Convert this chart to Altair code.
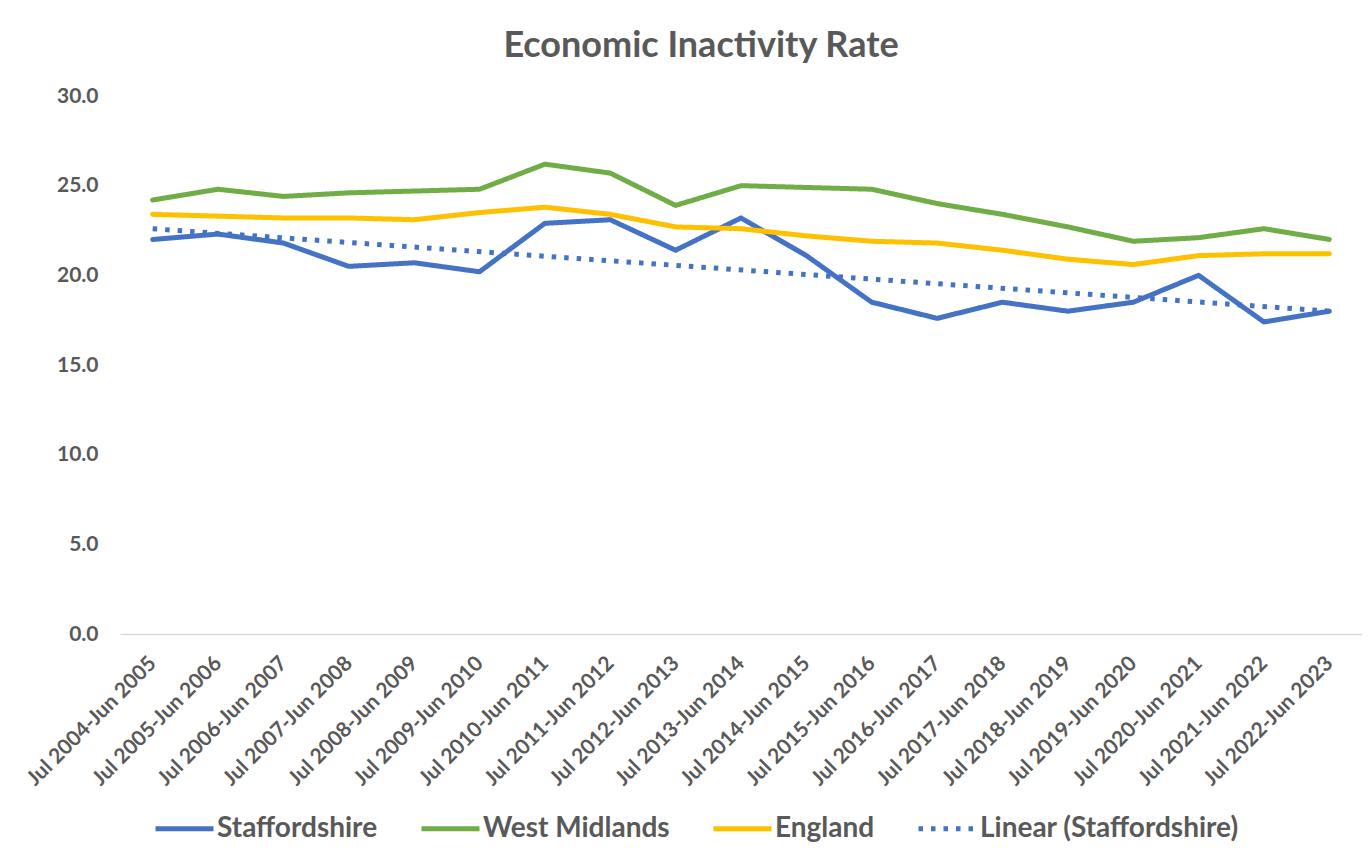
import json
import altair as alt
import pandas as pd

periods = [
    "Jul 2004-Jun 2005", "Jul 2005-Jun 2006", "Jul 2006-Jun 2007", "Jul 2007-Jun 2008",
    "Jul 2008-Jun 2009", "Jul 2009-Jun 2010", "Jul 2010-Jun 2011", "Jul 2011-Jun 2012",
    "Jul 2012-Jun 2013", "Jul 2013-Jun 2014", "Jul 2014-Jun 2015", "Jul 2015-Jun 2016",
    "Jul 2016-Jun 2017", "Jul 2017-Jun 2018", "Jul 2018-Jun 2019", "Jul 2019-Jun 2020",
    "Jul 2020-Jun 2021", "Jul 2021-Jun 2022", "Jul 2022-Jun 2023",
]
staffordshire = [22.0, 22.3, 21.8, 20.5, 20.7, 20.2, 22.9, 23.1, 21.4, 23.2,
                 21.1, 18.5, 17.6, 18.5, 18.0, 18.5, 20.0, 17.4, 18.0]
west_midlands = [24.2, 24.8, 24.4, 24.6, 24.7, 24.8, 26.2, 25.7, 23.9, 25.0,
                 24.9, 24.8, 24.0, 23.4, 22.7, 21.9, 22.1, 22.6, 22.0]
england = [23.4, 23.3, 23.2, 23.2, 23.1, 23.5, 23.8, 23.4, 22.7, 22.6,
           22.2, 21.9, 21.8, 21.4, 20.9, 20.6, 21.1, 21.2, 21.2]

series_names = ["Staffordshire", "West Midlands", "England", "Linear (Staffordshire)"]
series_colors = ["#4472C4", "#70AD47", "#FFC000", "#4472C4"]
series_dashes = [[1, 0], [1, 0], [1, 0], [4.5, 8]]
y_ticks = [0, 5, 10, 15, 20, 25, 30]

rows = []
for name, vals in zip(series_names[:3], [staffordshire, west_midlands, england]):
    for i, (p, v) in enumerate(zip(periods, vals)):
        rows.append({"idx": i, "period": p, "series": name, "value": v})
df = pd.DataFrame(rows)

FONT = "Lato"
GREY = "#595959"

label_expr = json.dumps(periods) + "[datum.value]"

x_enc = alt.X(
    "idx:Q",
    scale=alt.Scale(domain=[-0.5, len(periods) - 0.5], nice=False, zero=False),
    axis=alt.Axis(
        values=list(range(len(periods))), labelExpr=label_expr, labelAngle=-45,
        labelAlign="right", labelBaseline="middle", labelPadding=26,
        labelOverlap=False, labelBound=False, labelFlush=False,
        ticks=False, grid=False, domain=True, domainColor="#D9D9D9", domainWidth=1.5,
        labelFont=FONT, labelFontSize=21, labelFontWeight="bold", labelColor=GREY,
        title=None,
    ),
)
y_enc = alt.Y(
    "value:Q",
    scale=alt.Scale(domain=[0, 30], nice=False, zero=True),
    axis=alt.Axis(
        values=y_ticks, format=".1f", domain=False, ticks=False, grid=False,
        labelPadding=22, labelFont=FONT, labelFontSize=21, labelFontWeight="bold",
        labelColor=GREY, title=None,
    ),
)
color_enc = alt.Color(
    "series:N",
    scale=alt.Scale(domain=series_names, range=series_colors),
    legend=alt.Legend(
        orient="none", legendX=33, legendY=701, direction="horizontal",
        title=None, symbolType="stroke", symbolSize=3364, symbolStrokeWidth=5,
        labelFont=FONT, labelFontSize=28, labelFontWeight="bold", labelColor=GREY,
        labelLimit=0, columnPadding=33, labelOffset=1, padding=0, columns=4,
    ),
)
dash_enc = alt.StrokeDash(
    "series:N",
    scale=alt.Scale(domain=series_names, range=series_dashes),
    legend=None,
)

base = alt.Chart(df)
layers = []
for name in series_names[:3]:
    layers.append(
        base.transform_filter(alt.datum.series == name)
        .mark_line(strokeWidth=5, strokeCap="round", strokeJoin="round")
        .encode(x=x_enc, y=y_enc, color=color_enc, strokeDash=dash_enc)
    )
trend = (
    base.transform_filter(alt.datum.series == "Staffordshire")
    .transform_regression("idx", "value", method="linear", extent=[0, len(periods) - 1])
    .transform_calculate(series="'Linear (Staffordshire)'")
    .mark_line(strokeWidth=5, strokeCap="butt")
    .encode(x=x_enc, y=y_enc, color=color_enc, strokeDash=dash_enc)
)
layers.append(trend)

chart = (
    alt.layer(*layers)
    .properties(
        width=1242, height=538,
        padding={"left": 112, "top": 88, "right": 0, "bottom": 208},
        autosize=alt.AutoSizeParams(type="none"),
        title=alt.TitleParams(
            "Economic Inactivity Rate", font=FONT, fontSize=36, fontWeight="bold",
            color=GREY, anchor="middle", dx=-40, offset=20,
        ),
    )
    .configure(background="white")
    .configure_view(strokeOpacity=0, strokeWidth=0)
)

chart.save("out.html", embed_options={"renderer": "svg", "actions": False})
